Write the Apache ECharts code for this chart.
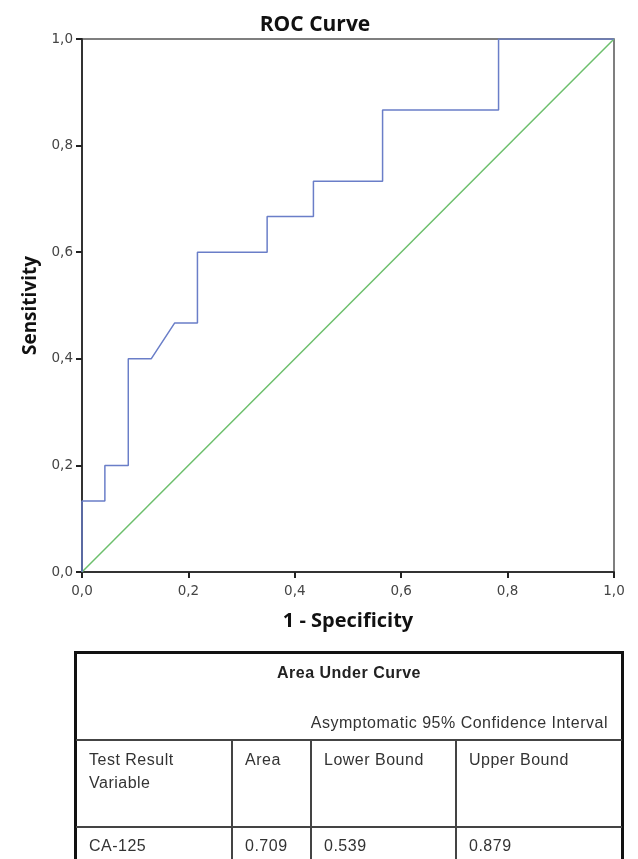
<!DOCTYPE html>
<html>
<head>
<meta charset="utf-8">
<script src="https://cdn.jsdelivr.net/npm/echarts@6/dist/echarts.min.js"></script>
<style>
  html, body { margin: 0; padding: 0; background: #fff; }
  .page { position: relative; width: 638px; height: 859px; overflow: hidden; }
  #rocChart { position: absolute; left: 0; top: 0; width: 638px; height: 645px; }
  .auc { position: absolute; left: 0; top: 0; width: 638px; height: 859px; pointer-events: none;
         font-family: "Liberation Sans", Arial, sans-serif; font-size: 16px; letter-spacing: 0.5px; color: #333; }
  .auc div { position: absolute; white-space: nowrap; }
  .box { left: 74px; top: 651px; width: 544px; height: 260px; border: 3px solid #111; }
  .hl { height: 1.5px; background: #444; }
  .vl { width: 1.5px; background: #444; }
  .lbl { line-height: 23px; transform: translateY(-50%); }
</style>
</head>
<body>
<div class="page">
  <div id="rocChart"></div>
  <div class="auc" id="auc"></div>
</div>
<script>
  // ROC step points: 1 - specificity / sensitivity
  var fpr = [0, 0, 0.043, 0.043, 0.087, 0.087, 0.130, 0.174, 0.217, 0.217, 0.348, 0.348, 0.435, 0.435, 0.565, 0.565, 0.783, 0.783, 1];
  var tpr = [0, 0.133, 0.133, 0.2, 0.2, 0.4, 0.4, 0.467, 0.467, 0.6, 0.6, 0.667, 0.667, 0.733, 0.733, 0.867, 0.867, 1, 1];
  var refLine = [[0, 0], [1, 1]];

  // table contents
  var tableTitle = 'Area Under Curve';
  var ciLabel = 'Asymptomatic 95% Confidence Interval';
  var colHeaders = [['Test Result', 'Variable'], ['Area'], ['Lower Bound'], ['Upper Bound']];
  var rowValues = ['CA-125', '0.709', '0.539', '0.879'];

  // table layout (page pixels)
  var colLeft = [75, 231, 310, 455];
  var rowLines = [739, 826];

  var auc = document.getElementById('auc');
  function add(cls, css, text) {
    var d = document.createElement('div');
    d.className = cls;
    d.style.cssText = css;
    if (text) d.textContent = text;
    auc.appendChild(d);
    return d;
  }
  add('box', '');
  rowLines.forEach(function (y) { add('hl', 'left:76px;width:546px;top:' + y + 'px;'); });
  colLeft.slice(1).forEach(function (x) { add('vl', 'left:' + x + 'px;top:739px;height:130px;'); });
  add('lbl', 'left:74px;width:550px;text-align:center;top:672px;font-weight:bold;color:#222;', tableTitle);
  add('lbl', 'right:30px;top:722px;', ciLabel);
  colHeaders.forEach(function (lines, i) {
    lines.forEach(function (t, j) {
      add('lbl', 'left:' + (colLeft[i] + 14) + 'px;top:' + (759 + j * 23) + 'px;', t);
    });
    add('lbl', 'left:' + (colLeft[i] + 14) + 'px;top:845px;', rowValues[i]);
  });

  var rocData = fpr.map(function (x, i) { return [x, tpr[i]]; });
  var fmt = function (v) { return v.toFixed(1).replace('.', ','); };

  var chart = echarts.init(document.getElementById('rocChart'));
  chart.setOption({
    animation: false,
    title: {
      text: 'ROC Curve',
      left: 310, top: 10, textAlign: 'center',
      textStyle: { fontSize: 21, fontWeight: 'bold', color: '#111', fontFamily: '"Open Sans", sans-serif' }
    },
    grid: {
      left: 82, top: 39, width: 532, height: 533,
      show: true, borderColor: '#555', borderWidth: 1.5, backgroundColor: 'transparent'
    },
    xAxis: {
      type: 'value', min: 0, max: 1, interval: 0.2,
      name: '1 - Specificity', nameLocation: 'middle', nameGap: 39,
      nameTextStyle: { fontSize: 20, fontWeight: 'bold', color: '#111', fontFamily: '"Open Sans", sans-serif' },
      axisLine: { lineStyle: { color: '#333', width: 2 } },
      axisTick: { length: 6, lineStyle: { color: '#222', width: 2 } },
      axisLabel: { color: '#444', fontSize: 13.5, margin: 12, formatter: fmt, fontFamily: '"DejaVu Sans", sans-serif' },
      splitLine: { show: false }
    },
    yAxis: {
      type: 'value', min: 0, max: 1, interval: 0.2,
      name: 'Sensitivity', nameLocation: 'middle', nameGap: 42, nameRotate: 90,
      nameTextStyle: { fontSize: 19, fontWeight: 'bold', color: '#111', fontFamily: '"Open Sans", sans-serif' },
      axisLine: { lineStyle: { color: '#333', width: 2 } },
      axisTick: { length: 6, lineStyle: { color: '#222', width: 2 } },
      axisLabel: { color: '#444', fontSize: 13.5, margin: 9, formatter: fmt, fontFamily: '"DejaVu Sans", sans-serif' },
      splitLine: { show: false }
    },
    series: [
      {
        name: 'Reference', type: 'line', data: refLine, symbol: 'none',
        lineStyle: { color: '#6cbf6c', width: 1.5 }, z: 2
      },
      {
        name: 'CA-125', type: 'line', data: rocData, symbol: 'none',
        lineStyle: { color: '#6a7ec8', width: 1.5 }, z: 3
      }
    ]
  });
</script>
</body>
</html>
